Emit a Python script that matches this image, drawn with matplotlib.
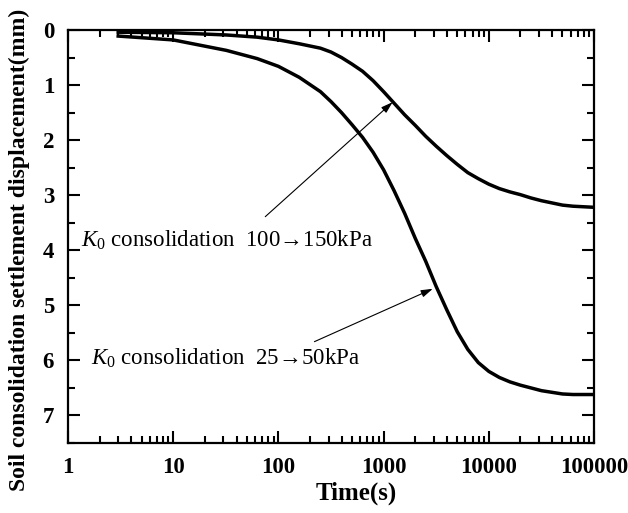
import numpy as np
import matplotlib
matplotlib.use('Agg')
from matplotlib import pyplot as plt
from matplotlib.ticker import FixedLocator, LogLocator, NullFormatter, FuncFormatter, MultipleLocator

plt.rcParams['font.family'] = ['Liberation Serif', 'DejaVu Serif']
plt.rcParams['mathtext.fontset'] = 'custom'
plt.rcParams['mathtext.rm'] = 'Liberation Serif'
plt.rcParams['mathtext.it'] = 'Liberation Serif:italic'

# time (s)
t_s = [3, 10, 32, 63, 100, 158, 251, 316, 398, 501, 631, 794, 1000, 1259, 1585,
       1995, 2512, 3162, 3981, 5012, 6310, 7943, 10000, 12589, 15849, 19953,
       25119, 31623, 39811, 50119, 63096, 79433, 100000]

# K0 consolidation 100->150 kPa
d_upper = [0.04, 0.05, 0.09, 0.13, 0.18, 0.25, 0.33, 0.40, 0.50, 0.62, 0.75, 0.92,
           1.12, 1.33, 1.54, 1.73, 1.93, 2.11, 2.28, 2.44, 2.59, 2.70, 2.80, 2.88,
           2.94, 2.99, 3.05, 3.10, 3.14, 3.18, 3.20, 3.21, 3.22]

# K0 consolidation 25->50 kPa
d_lower = [0.11, 0.18, 0.37, 0.52, 0.66, 0.86, 1.12, 1.30, 1.50, 1.72, 1.95, 2.22,
           2.54, 2.92, 3.33, 3.78, 4.20, 4.66, 5.08, 5.48, 5.80, 6.04, 6.20, 6.31,
           6.39, 6.45, 6.50, 6.55, 6.58, 6.61, 6.62, 6.62, 6.62]

x_ticks = [1, 10, 100, 1000, 10000, 100000]
y_ticks = [0, 1, 2, 3, 4, 5, 6, 7]

fig = plt.figure(figsize=(6.28, 5.13), dpi=100)
ax = fig.add_axes([0.1083, 0.1365, 0.8376, 0.805])

ax.plot(t_s, d_upper, color='black', lw=2.5, solid_joinstyle='round')
ax.plot(t_s, d_lower, color='black', lw=2.5, solid_joinstyle='round')

ax.set_xscale('log')
ax.set_xlim(1, 100000)
ax.set_ylim(7.5, 0)

ax.xaxis.set_major_locator(FixedLocator(x_ticks))
ax.xaxis.set_major_formatter(FuncFormatter(lambda v, p: '%d' % v))
ax.xaxis.set_minor_locator(LogLocator(base=10, subs=np.arange(2, 10), numticks=20))
ax.xaxis.set_minor_formatter(NullFormatter())
ax.yaxis.set_major_locator(FixedLocator(y_ticks))
ax.yaxis.set_minor_locator(MultipleLocator(0.5))

for s in ax.spines.values():
    s.set_linewidth(1.6)
ax.tick_params(which='both', direction='in', top=True, right=True, width=1.5)
ax.tick_params(which='major', length=8.5, pad=10, labelsize=16.5)
ax.tick_params(which='minor', length=5)
for lab in ax.get_xticklabels() + ax.get_yticklabels():
    lab.set_fontweight('bold')

ax.set_xlabel('Time(s)', fontsize=18, fontweight='bold', va='center', ha='center')
ax.xaxis.set_label_coords(0.548, -0.123)
ax.set_ylabel('Soil consolidation settlement displacement(mm)', fontsize=17,
              fontweight='bold', va='center', ha='center')
ax.yaxis.set_label_coords(-0.092, 0.468)

arrow = dict(arrowstyle='-|>,head_length=0.7,head_width=0.22', color='black', lw=0.8,
             shrinkA=0, shrinkB=0)
ax.annotate('', xy=(1218, 1.31), xytext=(75, 3.39), arrowprops=arrow)
ax.annotate('', xy=(2930, 4.70), xytext=(220, 5.66), arrowprops=arrow)

ax.text(1.32, 3.82, r'$K_0$' + ' consolidation  100\u2192150kPa', fontsize=16.5,
        va='center', ha='left')
ax.text(1.66, 5.96, r'$K_0$' + ' consolidation  25\u219250kPa', fontsize=16.5,
        va='center', ha='left')

fig.savefig('out.png', dpi=100)
